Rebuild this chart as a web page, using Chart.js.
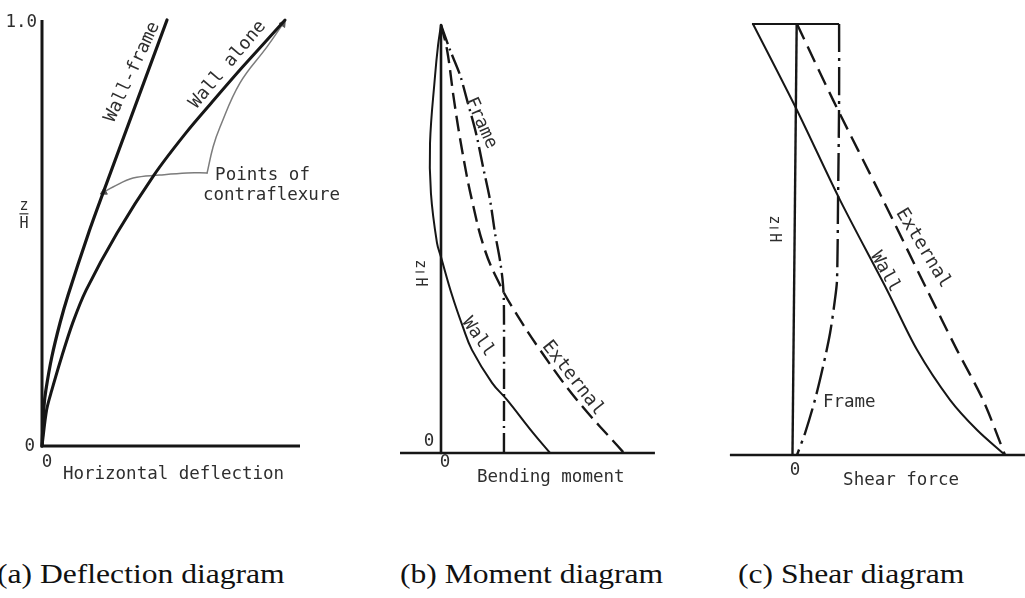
<!DOCTYPE html>
<html>
<head>
<meta charset="utf-8">
<script src="https://cdn.jsdelivr.net/npm/chart.js@4.4.1/dist/chart.umd.min.js"></script>
<style>
  html, body { margin: 0; padding: 0; background: #fff; width: 1025px; height: 598px; overflow: hidden; }
  canvas { position: absolute; top: 0; }
  .cap { position: absolute; top: 561px; font-family: "Liberation Serif", "Times New Roman", serif;
         font-size: 27px; line-height: 27px; color: #111; white-space: nowrap;
         transform: scaleX(1.17); transform-origin: 0 0; }
</style>
</head>
<body>
<canvas id="defl" width="345" height="500" style="left:0px"></canvas>
<canvas id="moment" width="340" height="500" style="left:380px"></canvas>
<canvas id="shear" width="305" height="500" style="left:720px"></canvas>
<div class="cap" style="left:-3px">(a) Deflection diagram</div>
<div class="cap" style="left:400px">(b) Moment diagram</div>
<div class="cap" style="left:738px">(c) Shear diagram</div>

<script>
// ---- (a) Deflection: x = horizontal deflection (relative), y = z/H ----
const deflWallFrameX = [0, 0.0074, 0.0151, 0.0380, 0.0698, 0.1012, 0.1806, 0.2380, 0.3225, 0.4171, 0.4845];
const deflWallFrameY = [0, 0.0915, 0.1315, 0.2089, 0.2887, 0.3545, 0.5000, 0.5962, 0.7347, 0.8897, 1.0];
const deflWallAloneX = [0, 0.018, 0.038, 0.076, 0.119, 0.171, 0.291, 0.434, 0.558, 0.666, 0.778, 0.942];
const deflWallAloneY = [0, 0.085, 0.131, 0.209, 0.289, 0.366, 0.500, 0.636, 0.735, 0.812, 0.890, 1.000];
// leader lines to the points of contraflexure
const leaderUpX = [0.640, 0.663, 0.690, 0.767, 0.872, 0.934];
const leaderUpY = [0.641, 0.702, 0.749, 0.852, 0.937, 0.991];
const leaderLeftX = [0.640, 0.562, 0.457, 0.353, 0.275, 0.240];
const leaderLeftY = [0.641, 0.641, 0.636, 0.629, 0.608, 0.596];
const deflAxisX = [0, 0, 1.0];
const deflAxisY = [1.0, 0, 0];

// ---- (b) Bending moment: x = moment (relative to base external moment), y = z/H ----
const momWallX = [0, -0.016, -0.033, -0.060, -0.055, -0.022, 0, 0.060, 0.120, 0.169, 0.279, 0.361, 0.503, 0.596];
const momWallY = [1, 0.953, 0.879, 0.724, 0.607, 0.491, 0.458, 0.369, 0.294, 0.241, 0.164, 0.124, 0.047, 0];
const momFrameX = [0, 0.049, 0.104, 0.142, 0.191, 0.230, 0.268, 0.295, 0.322, 0.339, 0.344, 0.344];
const momFrameY = [1, 0.942, 0.883, 0.825, 0.748, 0.668, 0.591, 0.514, 0.451, 0.393, 0.334, 0];
const momExternalX = [0, 0.033, 0.071, 0.115, 0.169, 0.240, 0.322, 0.399, 0.541, 0.743, 1.0];
const momExternalY = [1, 0.942, 0.825, 0.708, 0.591, 0.474, 0.393, 0.334, 0.241, 0.124, 0];
const momVertX = [0, 0];
const momVertY = [1, 0];
const momBaseX = [-0.224, 1.169];
const momBaseY = [0, 0];

// ---- (c) Shear force: x = shear (relative to base external shear), y = z/H ----
const shearWallX = [-0.200, 0.0095, 0.214, 0.438, 0.581, 0.738, 0.867, 1.0];
const shearWallY = [1, 0.800, 0.592, 0.383, 0.244, 0.128, 0.058, 0];
const shearExternalX = [0.0095, 0.181, 0.419, 0.629, 0.771, 0.895, 1.0];
const shearExternalY = [1, 0.824, 0.592, 0.383, 0.244, 0.128, 0];
const shearFrameX = [0.210, 0.210, 0.205, 0.200, 0.190, 0.167, 0.133, 0.095, 0.048, 0.0095];
const shearFrameY = [1, 0.824, 0.592, 0.406, 0.360, 0.283, 0.204, 0.128, 0.051, 0];
const shearVertX = [0.008, -0.012];
const shearVertY = [1, 0];
const shearTopX = [-0.205, 0.210];
const shearTopY = [1, 1];
const shearBaseX = [-0.310, 1.095];
const shearBaseY = [0, 0];

const INK = '#161616';
const TEXT = '#2e2e2e';
const MONO = '"DejaVu Sans Mono", "Liberation Mono", monospace';

function pts(xs, ys) { return xs.map((x, i) => ({ x: x, y: ys[i] })); }

function line(xs, ys, opts) {
  return Object.assign({
    data: pts(xs, ys), showLine: true, fill: false, clip: false,
    borderColor: INK, borderWidth: 2, tension: 0, pointRadius: 0,
    borderCapStyle: 'round', borderJoinStyle: 'round'
  }, opts || {});
}

// draws text labels placed in data coordinates
function textLayer(items) {
  return {
    id: 'textLayer',
    afterDatasetsDraw(chart) {
      const ctx = chart.ctx, sx = chart.scales.x, sy = chart.scales.y;
      items.forEach(it => {
        const px = sx.getPixelForValue(it.x), py = sy.getPixelForValue(it.y);
        ctx.save();
        ctx.translate(px, py);
        ctx.fillStyle = TEXT;
        ctx.strokeStyle = TEXT;
        ctx.textBaseline = 'middle';
        if (it.frac) {
          ctx.font = (it.size || 15) + 'px ' + MONO;
          ctx.textAlign = 'center';
          const glyph = (g, dy) => {
            ctx.save(); ctx.translate(0, dy);
            if (it.turn) ctx.rotate(Math.PI / 2);
            ctx.fillText(g, 0, 0); ctx.restore();
          };
          glyph('z', -8);
          ctx.lineWidth = 1.2;
          ctx.beginPath(); ctx.moveTo(-4.5, 0); ctx.lineTo(4.5, 0); ctx.stroke();
          glyph('H', 10);
        } else {
          ctx.rotate((it.rot || 0) * Math.PI / 180);
          ctx.font = (it.size || 17.5) + 'px ' + MONO;
          ctx.textAlign = it.align || 'center';
          ctx.fillText(it.t, 0, 0);
        }
        ctx.restore();
      });
    }
  };
}

function panel(id, padding, datasets, labels) {
  return new Chart(document.getElementById(id), {
    type: 'scatter',
    data: { datasets: datasets },
    options: {
      responsive: false, animation: false, events: [],
      layout: { padding: padding },
      scales: {
        x: { type: 'linear', display: false, min: 0, max: 1 },
        y: { type: 'linear', display: false, min: 0, max: 1 }
      },
      elements: { line: { capBezierPoints: false }, point: { radius: 0 } },
      plugins: { legend: { display: false }, tooltip: { enabled: false } }
    },
    plugins: [textLayer(labels)]
  });
}

// (a) Deflection diagram
panel('defl', { left: 42, right: 45, top: 20, bottom: 54 }, [
  line(deflAxisX, deflAxisY, { borderWidth: 3, borderCapStyle: 'butt', borderJoinStyle: 'miter' }),
  line(deflWallFrameX, deflWallFrameY, { borderWidth: 3.2, tension: 0.3 }),
  line(deflWallAloneX, deflWallAloneY, { borderWidth: 3, tension: 0.3 }),
  line(leaderUpX, leaderUpY, {
    borderColor: '#7c7c7c', borderWidth: 1.5, tension: 0.4,
    pointRadius: [0, 0, 0, 0, 0, 4], pointStyle: 'triangle', pointRotation: 35,
    pointBackgroundColor: '#555', pointBorderColor: '#555', pointBorderWidth: 1
  }),
  line(leaderLeftX, leaderLeftY, {
    borderColor: '#7c7c7c', borderWidth: 1.5, tension: 0.4,
    pointRadius: [0, 0, 0, 0, 0, 4], pointStyle: 'triangle', pointRotation: 241,
    pointBackgroundColor: '#555', pointBorderColor: '#555', pointBorderWidth: 1
  })
], [
  { t: '1.0', x: -0.019, y: 0.995, align: 'right' },
  { t: '0', x: -0.047, y: 0.0 },
  { t: '0', x: 0.019, y: -0.038 },
  { t: 'Horizontal deflection', x: 0.081, y: -0.066, align: 'left' },
  { t: 'Wall-frame', x: 0.350, y: 0.878, rot: -65, size: 18 },
  { t: 'Wall alone', x: 0.720, y: 0.895, rot: -50, size: 18 },
  { t: 'Points of', x: 0.671, y: 0.636, align: 'left' },
  { t: 'contraflexure', x: 0.624, y: 0.587, align: 'left' },
  { frac: true, x: -0.070, y: 0.545, size: 15 }
]);

// (b) Moment diagram
panel('moment', { left: 61, right: 96, top: 25, bottom: 47 }, [
  line(momVertX, momVertY, { borderWidth: 2.6, borderCapStyle: 'butt' }),
  line(momBaseX, momBaseY, { borderWidth: 2.6, borderCapStyle: 'butt' }),
  line(momWallX, momWallY, { borderWidth: 2, tension: 0.4 }),
  line(momFrameX, momFrameY, { borderWidth: 2.4, tension: 0.3, borderDash: [20, 5, 2, 5], borderCapStyle: 'butt' }),
  line(momExternalX, momExternalY, { borderWidth: 2.4, tension: 0.4, borderDash: [16, 7], borderCapStyle: 'butt' })
], [
  { t: '0', x: -0.066, y: 0.028 },
  { t: '0', x: 0.022, y: -0.023 },
  { t: 'Bending moment', x: 0.197, y: -0.056, align: 'left' },
  { t: 'Frame', x: 0.219, y: 0.771, rot: 66, size: 18 },
  { t: 'Wall', x: 0.202, y: 0.271, rot: 55, size: 18 },
  { t: 'External', x: 0.721, y: 0.175, rot: 52, size: 18.5 },
  { frac: true, turn: true, x: -0.115, y: 0.423, size: 15 }
]);

// (c) Shear diagram
panel('shear', { left: 75, right: 20, top: 24, bottom: 45 }, [
  line(shearVertX, shearVertY, { borderWidth: 2.4, borderCapStyle: 'butt' }),
  line(shearTopX, shearTopY, { borderWidth: 2.2, borderCapStyle: 'butt' }),
  line(shearBaseX, shearBaseY, { borderWidth: 2.4, borderCapStyle: 'butt' }),
  line(shearWallX, shearWallY, { borderWidth: 2, tension: 0.3 }),
  line(shearExternalX, shearExternalY, { borderWidth: 2.4, tension: 0.3, borderDash: [17, 8], borderCapStyle: 'butt' }),
  line(shearFrameX, shearFrameY, { borderWidth: 2.4, tension: 0.3, borderDash: [28, 6, 3, 6], borderCapStyle: 'butt' })
], [
  { t: '0', x: 0.0, y: -0.037 },
  { t: 'Shear force', x: 0.229, y: -0.060, align: 'left' },
  { t: 'Frame', x: 0.133, y: 0.123, align: 'left' },
  { t: 'External', x: 0.610, y: 0.480, rot: 58.6, size: 18.5 },
  { t: 'Wall', x: 0.429, y: 0.425, rot: 61, size: 18 },
  { frac: true, turn: true, x: -0.100, y: 0.527, size: 15 }
]);
</script>
</body>
</html>
